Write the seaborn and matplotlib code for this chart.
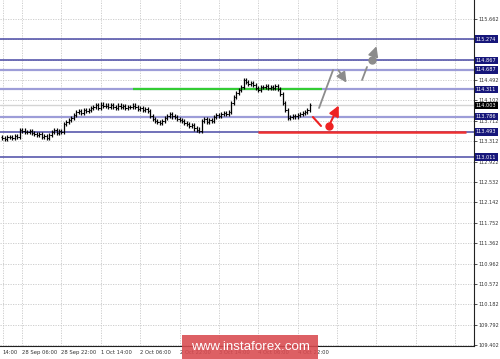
import matplotlib
matplotlib.use("Agg")
import matplotlib.pyplot as plt
import seaborn as sns
import numpy as np
import pandas as pd

# ---- data ----
closes = [113.38, 113.36, 113.40, 113.40, 113.38, 113.42, 113.39, 113.53, 113.52, 113.50,
          113.49, 113.51, 113.47, 113.46, 113.43, 113.45, 113.40, 113.42, 113.38, 113.44,
          113.50, 113.53, 113.48, 113.51, 113.49, 113.64, 113.68, 113.72, 113.76, 113.82,
          113.87, 113.89, 113.86, 113.92, 113.90, 113.91, 113.95, 113.98, 114.01, 113.96,
          114.02, 113.99, 114.00, 113.97, 114.01, 113.98, 113.96, 114.00, 113.97, 113.99,
          113.95, 113.98, 113.97, 114.00, 113.98, 113.94, 113.96, 113.92, 113.93, 113.90,
          113.80, 113.74, 113.70, 113.68, 113.66, 113.70, 113.76, 113.80, 113.83, 113.79,
          113.78, 113.74, 113.72, 113.70, 113.66, 113.64, 113.60, 113.62, 113.56, 113.54,
          113.52, 113.70, 113.74, 113.68, 113.72, 113.70, 113.78, 113.82, 113.80, 113.84,
          113.86, 113.84, 113.87, 114.05, 114.16, 114.24, 114.30, 114.35, 114.49, 114.45,
          114.42, 114.44, 114.40, 114.33, 114.30, 114.36, 114.35, 114.38, 114.33, 114.36,
          114.34, 114.37, 114.32, 114.22, 114.05, 113.92, 113.77, 113.78, 113.80, 113.79,
          113.82, 113.83, 113.86, 113.87, 113.92, 114.003]
first_open = 113.40

level_dark = [115.274, 114.867, 113.493, 113.011]
level_dark_labels = ["115.274", "114.867", "113.493", "113.011"]
level_light = [114.687, 114.311, 113.786]
level_light_labels = ["114.687", "114.311", "113.786"]
current_price = 114.003
current_label = "114.003"

ytick_vals = [115.662, 115.272, 114.882, 114.492, 114.102, 113.712, 113.312, 112.922, 112.532,
              112.142, 111.752, 111.362, 110.962, 110.572, 110.182, 109.792, 109.402]
ytick_labels = ["115.662", "", "", "114.492", "114.102", "113.712", "113.312",
                "112.922", "112.532", "112.142", "111.752", "111.362", "110.962", "110.572",
                "110.182", "109.792", "109.402"]
xtick_pos = [9, 25, 41, 57, 73, 89, 105, 121, 137, 153, 169, 185]
xtick_labels = ["28 Sep 06:00", "28 Sep 22:00", "1 Oct 14:00", "2 Oct 06:00", "2 Oct 22:00",
                "3 Oct 14:00", "4 Oct 06:00", "4 Oct 22:00", "", "", "", ""]
first_label = "14:00"

green_level = 114.311
green_span = [54.1, 130.9]
red_level = 113.493
red_span = [104.9, 189.4]

# forecast path (bar-index, price)
grey_up_x = [129.7, 135.4]; grey_up_y = [113.953, 114.683]
grey_dn_x = [137.0, 141.5]; grey_dn_y = [114.721, 114.395]
grey_dash_x = [147.2, 149.2]; grey_dash_y = [114.491, 114.741]
grey_dot = [151.2, 114.875]
grey_tip = [153.4, 115.190]
red_seg_x = [127.2, 130.5]; red_seg_y = [113.780, 113.608]
red_dot = [133.7, 113.608]
red_tip = [138.2, 114.049]

# ---- figure ----
sns.set_style("white")
plt.rcParams['font.family'] = ['DejaVu Sans']
fig = plt.figure(figsize=(5.0, 3.59), dpi=100)
ax = fig.add_axes([0.0, 13/359, 474/500, 1 - 13/359])
ax.set_facecolor("white")

ymin, ymax = 109.383, 116.027
ax.set_ylim(ymin, ymax)
ax.set_xlim(0, 192.7)

# grid
gridstyle = dict(color="#c8c8c8", lw=0.6, ls=(0, (1.5, 1.5)), zorder=0)
for yv in ytick_vals:
    ax.axhline(yv, **gridstyle)
for xv in xtick_pos:
    ax.axvline(xv, **gridstyle)
ax.axvline(1.2, **gridstyle)

# level lines
for lv in level_dark:
    ax.axhline(lv, color="#4a4aa6", lw=1.1, zorder=1)
for lv in level_light:
    ax.axhline(lv, color="#9d9dd8", lw=1.6, zorder=1)
ax.axhline(current_price, color="#d4d4d4", lw=1.0, zorder=1)

# OHLC bars
df = pd.DataFrame({"close": closes})
df["open"] = [first_open] + closes[:-1]
df["x"] = np.arange(len(closes)) + 1.0
pad = 0.04
lo = np.minimum(df["open"], df["close"]) - pad
hi = np.maximum(df["open"], df["close"]) + pad
ax.vlines(df["x"], lo, hi, color="black", lw=0.9, zorder=3)
ax.hlines(df["open"], df["x"] - 0.5, df["x"], color="black", lw=0.7, zorder=3)
ax.hlines(df["close"], df["x"], df["x"] + 0.5, color="black", lw=0.7, zorder=3)

# green & red levels
ax.hlines(green_level, green_span[0], green_span[1], color="#33cc33", lw=1.6, zorder=2)
ax.hlines(red_level, red_span[0], red_span[1], color="#ee3030", lw=1.8, zorder=2)

# forecast arrows
g = "#8c8c8c"
astyle = "-|>,head_length=0.6,head_width=0.3"
ax.plot(grey_up_x, grey_up_y, color=g, lw=1.3, zorder=4)
ax.annotate("", xy=(grey_dn_x[1], grey_dn_y[1]), xytext=(grey_dn_x[0], grey_dn_y[0]),
            arrowprops=dict(arrowstyle=astyle, color=g, lw=1.3), zorder=4)
ax.plot(grey_dash_x, grey_dash_y, color=g, lw=1.3, zorder=4)
ax.annotate("", xy=(grey_tip[0], grey_tip[1]), xytext=(grey_dot[0], grey_dot[1]),
            arrowprops=dict(arrowstyle=astyle, color=g, lw=1.3), zorder=4)
ax.plot([grey_dot[0]], [grey_dot[1]], "o", color=g, ms=5, zorder=5)

r = "#ee2222"
ax.plot(red_seg_x, red_seg_y, color=r, lw=1.5, zorder=4)
ax.annotate("", xy=(red_tip[0], red_tip[1]), xytext=(red_dot[0], red_dot[1]),
            arrowprops=dict(arrowstyle=astyle, color=r, lw=1.5), zorder=4)
ax.plot([red_dot[0]], [red_dot[1]], "o", color=r, ms=5, zorder=5)

# axes / ticks
ax.yaxis.tick_right()
ax.set_yticks(ytick_vals)
ax.set_yticklabels(ytick_labels, fontsize=3.6, color="#333333")
ax.set_xticks(xtick_pos)
ax.set_xticklabels(xtick_labels, fontsize=3.8, color="#333333", ha="left")
ax.tick_params(axis="both", length=2, width=0.6, pad=1, colors="#333333")
ax.annotate(first_label, xy=(0.006, 0), xycoords="axes fraction", xytext=(0, -3),
            textcoords="offset points", fontsize=3.8, color="#333333", ha="left", va="top")
for s in ["top", "left"]:
    ax.spines[s].set_visible(False)
for s in ["right", "bottom"]:
    ax.spines[s].set_color("#222222")
    ax.spines[s].set_linewidth(0.8)

# level label boxes
for lv, lt in zip(level_dark + level_light, level_dark_labels + level_light_labels):
    ax.text(1.004, lv, lt, transform=ax.get_yaxis_transform(), fontsize=3.6, color="white",
            ha="left", va="center", zorder=10, clip_on=False,
            bbox=dict(boxstyle="square,pad=0.25", fc="#16167a", ec="none"))
ax.text(1.004, current_price, current_label, transform=ax.get_yaxis_transform(), fontsize=3.6,
        color="white", ha="left", va="center", zorder=10, clip_on=False,
        bbox=dict(boxstyle="square,pad=0.25", fc="black", ec="none"))

# watermark
fig.patches.append(plt.Rectangle((182/500, 0), 136/500, 24/359, transform=fig.transFigure,
                                 fc="#d94a4f", ec="none", alpha=0.88, zorder=20))
fig.text(250/500, 12/359, "www.instaforex.com", fontsize=9.6, color="white",
         family=["Liberation Sans", "DejaVu Sans"], ha="center", va="center", zorder=21)

fig.savefig("out.png", dpi=100, facecolor="white")
